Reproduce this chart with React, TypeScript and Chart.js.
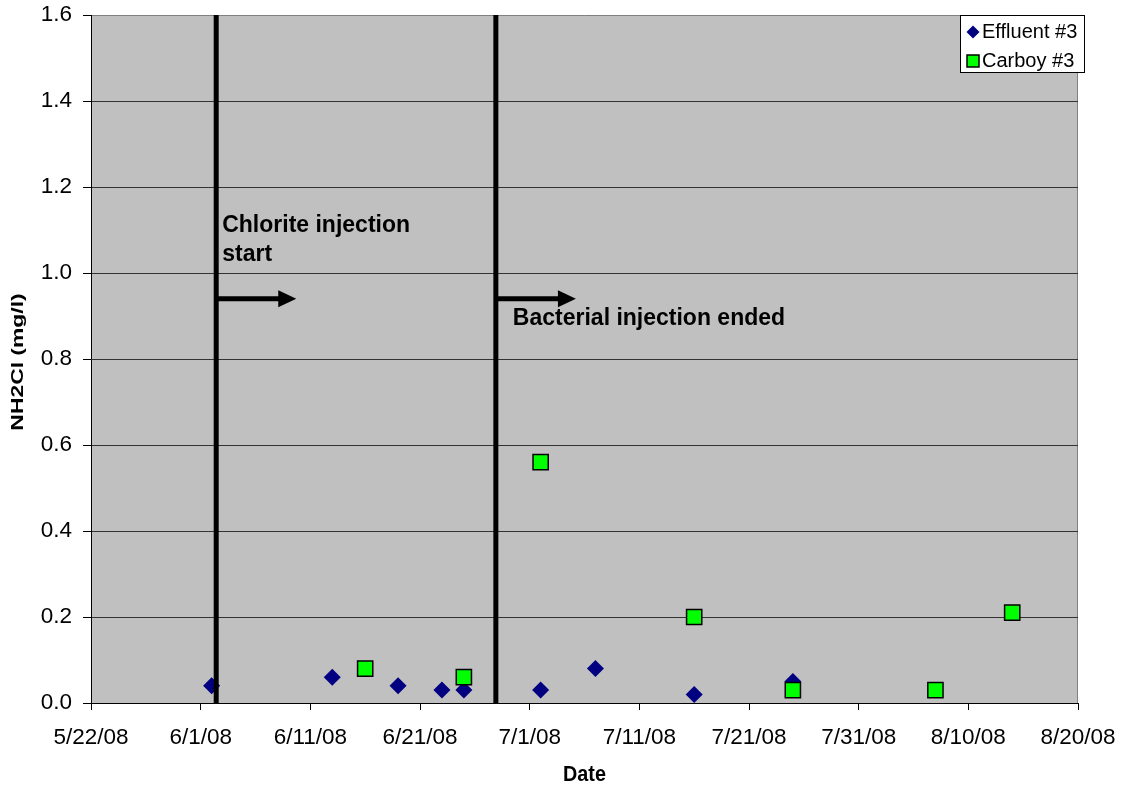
import { useEffect, useRef } from "react";
import { Chart, registerables } from "chart.js";

Chart.register(...registerables);

// Days are counted from the first date on the axis (UTC).
const AXIS_START = "2008-05-22";
const AXIS_DAYS = 90;
const TICK_STEP_DAYS = 10;

const effluentDates = [
  "2008-06-02", "2008-06-13", "2008-06-19", "2008-06-23", "2008-06-25",
  "2008-07-02", "2008-07-07", "2008-07-16", "2008-07-25",
];
const effluentValues = [0.04, 0.06, 0.04, 0.03, 0.03, 0.03, 0.08, 0.02, 0.05];

const carboyDates = [
  "2008-06-16", "2008-06-25", "2008-07-02", "2008-07-16",
  "2008-07-25", "2008-08-07", "2008-08-14",
];
const carboyValues = [0.08, 0.06, 0.56, 0.2, 0.03, 0.03, 0.21];

// Start of chlorite injection, end of bacterial injection
const eventTimes = ["2008-06-02T10:00Z", "2008-06-27T22:00Z"];
const eventText = [["Chlorite injection", "start"], ["Bacterial injection ended"]];

const yTicks = { min: 0, max: 1.6, step: 0.2 };

const FONT = "'Liberation Sans', Arial, Helvetica, sans-serif";
const DAY_MS = 86400000;
const startMs = Date.parse(AXIS_START);
const toDay = (s: string) => (Date.parse(s) - startMs) / DAY_MS;

const formatDay = (d: number) => {
  const dt = new Date(startMs + Math.round(d) * DAY_MS);
  const yy = String(dt.getUTCFullYear() % 100).padStart(2, "0");
  return `${dt.getUTCMonth() + 1}/${dt.getUTCDate()}/${yy}`;
};

// Arrow and caption layout next to each event line
const ARROW_LEVEL = 0.94;
const ARROW_DAYS = 7.3;
const noteLayout = [
  { dx: 6, baseline: 1.095 },
  { dx: 17, baseline: 0.88 },
];

const overlayPlugin = {
  id: "overlay",
  beforeDraw(chart: any) {
    const { ctx, chartArea: a } = chart;
    ctx.save();
    ctx.fillStyle = "#C0C0C0";
    ctx.fillRect(a.left, a.top, a.right - a.left, a.bottom - a.top);
    ctx.strokeStyle = "#808080";
    ctx.lineWidth = 1;
    ctx.beginPath();
    ctx.moveTo(a.left, a.top + 0.5);
    ctx.lineTo(a.right - 0.5, a.top + 0.5);
    ctx.lineTo(a.right - 0.5, a.bottom);
    ctx.stroke();
    ctx.restore();
  },
  afterDatasetsDraw(chart: any) {
    const { ctx } = chart;
    const xs = chart.scales.x;
    const ys = chart.scales.y;
    ctx.save();
    ctx.fillStyle = "#000";
    ctx.strokeStyle = "#000";
    eventTimes.forEach((t, i) => {
      const day = toDay(t);
      const x0 = xs.getPixelForValue(day);
      const tip = xs.getPixelForValue(day + ARROW_DAYS);
      const ay = ys.getPixelForValue(ARROW_LEVEL);
      const headLen = 18;
      const headHalf = 8.5;
      ctx.lineWidth = 5;
      ctx.beginPath();
      ctx.moveTo(x0, ay);
      ctx.lineTo(tip - headLen + 1, ay);
      ctx.stroke();
      ctx.beginPath();
      ctx.moveTo(tip, ay);
      ctx.lineTo(tip - headLen, ay - headHalf);
      ctx.lineTo(tip - headLen, ay + headHalf);
      ctx.closePath();
      ctx.fill();

      const note = noteLayout[i];
      ctx.font = `bold 23px ${FONT}`;
      ctx.textAlign = "left";
      ctx.textBaseline = "alphabetic";
      const by = ys.getPixelForValue(note.baseline);
      eventText[i].forEach((line, j) => {
        ctx.fillText(line, x0 + note.dx, by + j * 29);
      });
    });
    ctx.restore();
  },
  afterDraw(chart: any) {
    const { ctx, chartArea: a } = chart;
    ctx.save();

    // legend box
    const bw = 125;
    const bh = 58;
    const bx = a.right - 118;
    const by = a.top;
    ctx.fillStyle = "#FFFFFF";
    ctx.fillRect(bx, by, bw, bh);
    ctx.strokeStyle = "#000";
    ctx.lineWidth = 1;
    ctx.strokeRect(bx + 0.5, by + 0.5, bw - 1, bh - 1);
    const items = chart.data.datasets.filter((d: any) => d.label);
    items.forEach((d: any, i: number) => {
      const cx = bx + 13;
      const cy = by + 17 + i * 29;
      if (d.pointStyle === "rectRot") {
        const r = 6.5;
        ctx.fillStyle = d.backgroundColor;
        ctx.beginPath();
        ctx.moveTo(cx, cy - r);
        ctx.lineTo(cx + r, cy);
        ctx.lineTo(cx, cy + r);
        ctx.lineTo(cx - r, cy);
        ctx.closePath();
        ctx.fill();
      } else {
        const s = 12;
        ctx.fillStyle = d.backgroundColor;
        ctx.fillRect(cx - s / 2, cy - s / 2, s, s);
        ctx.strokeStyle = d.borderColor;
        ctx.lineWidth = 1.5;
        ctx.strokeRect(cx - s / 2, cy - s / 2, s, s);
      }
      ctx.fillStyle = "#000";
      ctx.font = `20px ${FONT}`;
      ctx.textAlign = "left";
      ctx.textBaseline = "middle";
      ctx.fillText(d.label, bx + 22, cy);
    });

    // axis titles
    ctx.fillStyle = "#000";
    ctx.textAlign = "center";
    ctx.textBaseline = "middle";

    ctx.save();
    ctx.translate((a.left + a.right) / 2, 775);
    ctx.scale(0.9, 1);
    ctx.font = `bold 22px ${FONT}`;
    ctx.fillText("Date", 0, 0);
    ctx.restore();

    ctx.save();
    ctx.translate(19, (a.top + a.bottom) / 2 + 3);
    ctx.rotate(-Math.PI / 2);
    ctx.scale(1.43, 1);
    ctx.font = `bold 16px ${FONT}`;
    ctx.fillText("NH2Cl (mg/l)", 0, 0);
    ctx.restore();

    ctx.restore();
  },
};

export default function App() {
  const canvasRef = useRef<HTMLCanvasElement | null>(null);

  useEffect(() => {
    if (!canvasRef.current) return;

    const eventDatasets = eventTimes.map((t) => ({
      data: [
        { x: toDay(t), y: yTicks.min },
        { x: toDay(t), y: yTicks.max },
      ],
      showLine: true,
      borderColor: "#000",
      borderWidth: 5,
      pointRadius: 0,
      order: 0,
    }));

    const chart = new Chart(canvasRef.current, {
      type: "scatter",
      data: {
        datasets: [
          {
            label: "Effluent #3",
            data: effluentDates.map((d, i) => ({ x: toDay(d), y: effluentValues[i] })),
            pointStyle: "rectRot",
            pointRadius: 8.5,
            backgroundColor: "#000080",
            borderColor: "#000080",
            borderWidth: 0,
            order: 2,
          },
          {
            label: "Carboy #3",
            data: carboyDates.map((d, i) => ({ x: toDay(d), y: carboyValues[i] })),
            pointStyle: "rect",
            pointRadius: 10.75,
            backgroundColor: "#00FF00",
            borderColor: "#000000",
            borderWidth: 1.5,
            order: 1,
          },
          ...eventDatasets,
        ] as any,
      },
      options: {
        animation: false,
        responsive: true,
        maintainAspectRatio: false,
        events: [],
        layout: { padding: { top: 15, right: 51, left: 0, bottom: 0 } },
        plugins: {
          legend: { display: false },
          tooltip: { enabled: false },
        },
        scales: {
          x: {
            type: "linear",
            min: 0,
            max: AXIS_DAYS,
            afterFit: (s: any) => {
              s.height = 88;
              s.paddingLeft = 0;
              s.paddingRight = 0;
            },
            ticks: {
              stepSize: TICK_STEP_DAYS,
              padding: 14.5,
              color: "#000",
              maxRotation: 0,
              font: { family: FONT, size: 22.5 },
              callback: (v: any) => formatDay(Number(v)),
            },
            grid: {
              drawOnChartArea: false,
              drawTicks: true,
              tickLength: 7,
              tickColor: "#000",
            },
            border: { color: "#000", width: 1 },
          },
          y: {
            min: yTicks.min,
            max: yTicks.max,
            afterFit: (s: any) => {
              s.width = 91;
              s.paddingTop = 0;
              s.paddingBottom = 0;
            },
            ticks: {
              stepSize: yTicks.step,
              padding: 11,
              color: "#000",
              font: { family: FONT, size: 22.5 },
              callback: (v: any) => Number(v).toFixed(1),
            },
            grid: {
              color: (c: any) =>
                Math.abs(c.tick.value - yTicks.max) < 1e-6 ? "rgba(0,0,0,0)" : "#333333",
              lineWidth: 1,
              tickLength: 8,
              tickColor: "#000",
            },
            border: { color: "#000", width: 1 },
          },
        },
      },
      plugins: [overlayPlugin],
    } as any);

    return () => chart.destroy();
  }, []);

  return (
    <div style={{ position: "fixed", left: 0, top: 0, width: 1129, height: 791, background: "#fff" }}>
      <canvas ref={canvasRef} />
    </div>
  );
}
